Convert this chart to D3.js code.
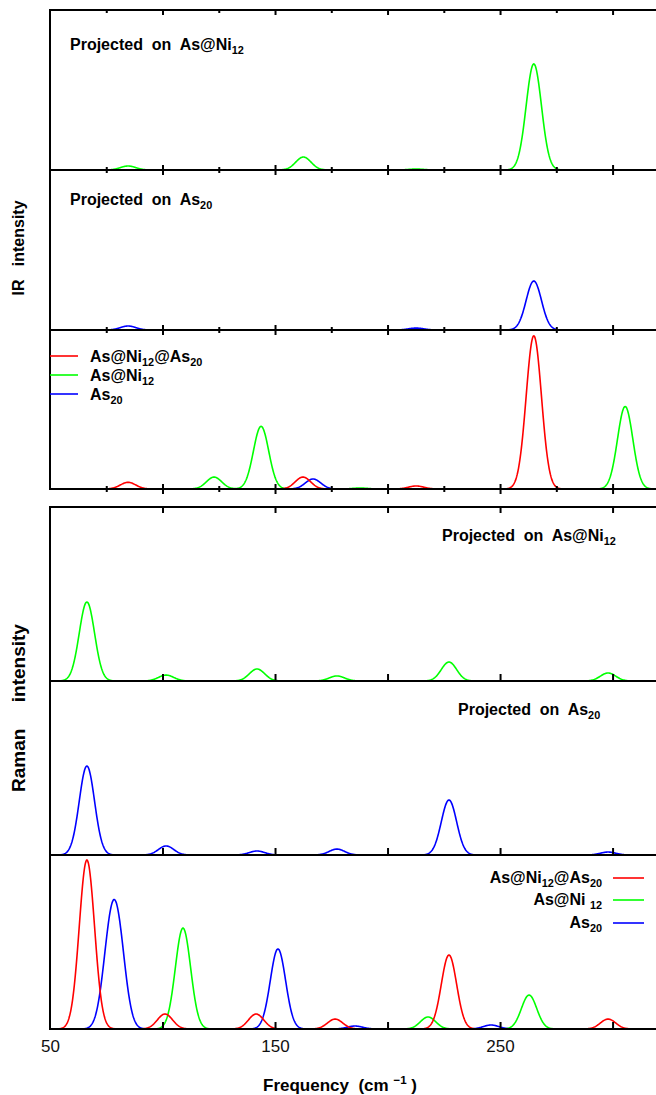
<!DOCTYPE html>
<html>
<head>
<meta charset="utf-8">
<script src="https://cdn.jsdelivr.net/npm/d3@7"></script>
<style>
  body { margin: 0; background: #fff; }
  text { font-family: "Liberation Sans", Arial, sans-serif; }
</style>
</head>
<body>
<div id="container"></div>
<script>

// chart size
const width = 656;
const height = 1095;

// peak lists [frequency cm-1, intensity (0-100 of panel height)]
// IR, projected on As@Ni12
const irProjNi = [[84.7, 2.5], [162.6, 8.1], [212.7, 0.6], [265, 66.3]];
// IR, projected on As20
const irProjAs = [[84.7, 2.5], [212.7, 1.2], [265, 30.6]];
// IR, whole cluster and isolated parts
const irTotal = [[84.7, 4.2], [162.4, 7.5], [212.7, 1.9], [265, 96.3]];
const irNi = [[122.9, 7.5], [143.8, 39.4], [187.8, 0.6], [305.6, 51.9]];
const irAs = [[166.9, 6.3]];

// Raman, projected on As@Ni12
const ramanProjNi = [[66.4, 45.4], [101.6, 3.4], [142, 6.9], [177.5, 2.9], [227.3, 10.9], [298, 4.6]];
// Raman, projected on As20
const ramanProjAs = [[66.4, 51.1], [101.6, 5.2], [142, 2.3], [177.5, 3.4], [227.3, 31.6], [298, 1.7]];
// Raman, whole cluster and isolated parts
const ramanTotal = [[66.4, 97.1], [101.1, 8.6], [141.6, 8.6], [176.7, 5.7], [227.3, 42.5], [298, 5.7]];
const ramanNi = [[109.1, 58], [218, 6.9], [262.9, 19.5]];
const ramanAs = [[76.6, 43], [80.4, 44], [151.3, 46], [185.5, 1.7], [246, 2.3]];

// ticks
const irMinorTicks = [75, 125, 175, 225, 275];
const irMajorTicks = [100, 150, 200, 250, 300];
const ramanTicks = [100, 150, 200, 250, 300];
const xTickLabels = [50, 150, 250];

const red = "#ff0000", green = "#00ff00", blue = "#0000ff";
const sigma = 3.4; // gaussian broadening used for the plotted lines

const x = d3.scaleLinear().domain([50, 319.3]).range([50, 656]);
const grid = d3.range(50, 319.4, 0.2);

function spectrum(peaks) {
  return grid.map(f => [f, d3.sum(peaks, p => p[1] * Math.exp(-((f - p[0]) ** 2) / (2 * sigma * sigma)))]);
}

const panels = [
  {top: 10, bottom: 170, series: [{color: green, peaks: irProjNi}]},
  {top: 170, bottom: 330, series: [{color: blue, peaks: irProjAs}]},
  {top: 330, bottom: 489, series: [{color: blue, peaks: irAs}, {color: green, peaks: irNi}, {color: red, peaks: irTotal}]},
  {top: 507, bottom: 681, series: [{color: green, peaks: ramanProjNi}]},
  {top: 681, bottom: 855, series: [{color: blue, peaks: ramanProjAs}]},
  {top: 855, bottom: 1029, series: [{color: green, peaks: ramanNi}, {color: blue, peaks: ramanAs}, {color: red, peaks: ramanTotal}]}
];

const svg = d3.create("svg")
    .attr("width", width)
    .attr("height", height);

// curves
panels.forEach((p, i) => {
  const y = d3.scaleLinear().domain([0, 100]).range([p.bottom, p.top]);
  svg.append("clipPath").attr("id", "clip" + i)
    .append("rect")
    .attr("x", 50).attr("y", p.top)
    .attr("width", 606).attr("height", p.bottom - p.top);
  const line = d3.line().x(d => x(d[0])).y(d => y(d[1]));
  p.series.forEach(s => {
    svg.append("path")
      .attr("clip-path", "url(#clip" + i + ")")
      .attr("d", line(spectrum(s.peaks)))
      .attr("fill", "none")
      .attr("stroke", s.color)
      .attr("stroke-width", 1.6);
  });
});

// frame lines
const hLines = [10, 170, 330, 489, 507, 681, 855, 1029];
hLines.forEach(yy => {
  svg.append("line")
    .attr("x1", 50).attr("x2", 656)
    .attr("y1", yy).attr("y2", yy)
    .attr("stroke", "#000").attr("stroke-width", 2);
});
svg.append("line").attr("x1", 50).attr("x2", 50).attr("y1", 9).attr("y2", 490)
  .attr("stroke", "#000").attr("stroke-width", 2);
svg.append("line").attr("x1", 50).attr("x2", 50).attr("y1", 506).attr("y2", 1030)
  .attr("stroke", "#000").attr("stroke-width", 2);

// tick helper
function ticks(axisFn, yPos, values, size) {
  const g = svg.append("g")
    .attr("transform", "translate(0," + yPos + ")")
    .call(axisFn(x).tickValues(values).tickSize(size).tickFormat(""));
  g.select(".domain").remove();
  g.selectAll(".tick line").attr("stroke", "#000").attr("stroke-width", 2);
}

// IR ticks
[10, 170, 330, 489].forEach((yy, i) => {
  ticks(d3.axisBottom, yy, irMinorTicks, 3);
  ticks(d3.axisBottom, yy, irMajorTicks, 5);
  if (i > 0) {
    ticks(d3.axisTop, yy, irMinorTicks, 3);
    ticks(d3.axisTop, yy, irMajorTicks, 5);
  }
});

// Raman ticks
ticks(d3.axisBottom, 507, ramanTicks, 6);
[681, 855, 1029].forEach(yy => ticks(d3.axisTop, yy, ramanTicks, 7));

// bottom tick labels
const xAxis = svg.append("g")
  .attr("transform", "translate(0,1029)")
  .call(d3.axisBottom(x).tickValues(xTickLabels).tickSize(0).tickPadding(11).tickFormat(d3.format("d")));
xAxis.select(".domain").remove();
xAxis.selectAll("text")
  .attr("font-size", 17)
  .attr("fill", "#111")
  .style("font-family", "'Liberation Sans', Arial, sans-serif");

// rich text with subscripts / superscripts
function rich(xPos, yPos, parts, size, anchor) {
  const t = svg.append("text")
    .attr("x", xPos).attr("y", yPos)
    .attr("font-size", size)
    .attr("font-weight", "bold")
    .attr("text-anchor", anchor || "start")
    .style("white-space", "pre");
  let shift = 0;
  parts.forEach(([s, kind]) => {
    const want = kind === "sub" ? 4 : kind === "sup" ? -7 : 0;
    t.append("tspan")
      .attr("dy", want - shift)
      .attr("font-size", kind ? size * 0.68 : size)
      .text(s);
    shift = want;
  });
  return t;
}

// panel labels
rich(70, 50, [["Projected  on  As@Ni"], ["12", "sub"]], 16);
rich(70, 205, [["Projected  on  As"], ["20", "sub"]], 16);
rich(442, 541, [["Projected  on  As@Ni"], ["12", "sub"]], 16);
rich(458, 715, [["Projected  on  As"], ["20", "sub"]], 16);

// IR legend
const legendIR = [
  {color: red, parts: [["As@Ni"], ["12", "sub"], ["@As"], ["20", "sub"]], y: 356},
  {color: green, parts: [["As@Ni"], ["12", "sub"]], y: 375},
  {color: blue, parts: [["As"], ["20", "sub"]], y: 394}
];
legendIR.forEach(d => {
  svg.append("line").attr("x1", 50).attr("x2", 78).attr("y1", d.y).attr("y2", d.y)
    .attr("stroke", d.color).attr("stroke-width", 1.6);
  rich(90, d.y + 6, d.parts, 16);
});

// Raman legend
const legendRaman = [
  {color: red, parts: [["As@Ni"], ["12", "sub"], ["@As"], ["20", "sub"]], y: 878},
  {color: green, parts: [["As@Ni "], ["12", "sub"]], y: 900},
  {color: blue, parts: [["As"], ["20", "sub"]], y: 923}
];
legendRaman.forEach(d => {
  svg.append("line").attr("x1", 613).attr("x2", 644).attr("y1", d.y).attr("y2", d.y)
    .attr("stroke", d.color).attr("stroke-width", 1.6);
  rich(602, d.y + 5, d.parts, 16, "end");
});

// axis titles
rich(0, 0, [["IR   intensity"]], 16, "middle")
  .attr("transform", "translate(24,248) rotate(-90)");
rich(0, 0, [["Raman     intensity"]], 19, "middle")
  .attr("transform", "translate(25,708) rotate(-90)");
rich(340, 1091, [["Frequency  (cm "], ["\u22121", "sup"], [" )"]], 17, "middle");

container.append(svg.node());

</script>
</body>
</html>
